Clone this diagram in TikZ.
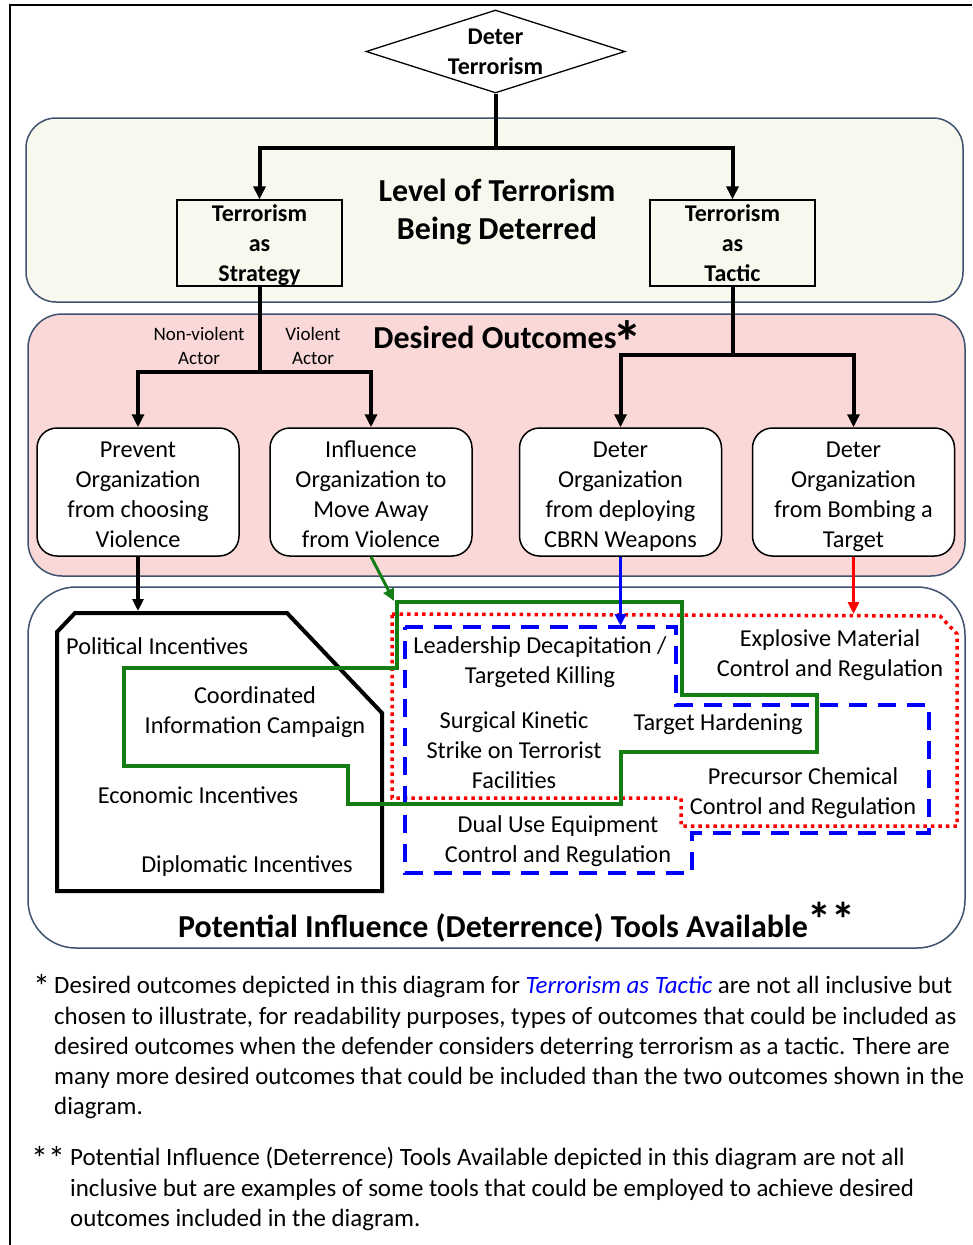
\documentclass[tikz,border=0pt]{standalone}
\usepackage{fontspec}
\setmainfont{Carlito}
\usetikzlibrary{shapes.geometric,arrows.meta}
\definecolor{panelborder}{RGB}{62,82,112}
\definecolor{lightfill}{RGB}{248,249,238}
\definecolor{pinkfill}{RGB}{250,216,216}
\definecolor{tgreen}{RGB}{20,125,20}
\newcommand\mytstrut{\rule{0pt}{23pt}}
\newcommand\mybstrut{\rule[-7pt]{0pt}{7pt}}
\newcommand\mytstrutb{\rule{0pt}{21pt}}
\newcommand\mybstrutb{\rule[-7pt]{0pt}{7pt}}
\begin{document}
\begin{tikzpicture}[x=1pt,y=-1pt,
  panel/.style={draw=panelborder,line width=1.5pt},
  conn/.style={line width=4pt,-{Triangle[length=13pt,width=12pt]}},
  lowconn/.style={line width=3pt,-{Triangle[length=12pt,width=11pt]}},
  struts/.style={execute at begin node=\mytstrut,execute at end node=\mybstrut},
  strutsb/.style={execute at begin node=\mytstrutb,execute at end node=\mybstrutb},
  txt/.style={font=\fontsize{24.3}{30}\selectfont,align=center,inner sep=0pt},
  btxt/.style={font=\bfseries\fontsize{24}{30}\selectfont,align=center,inner sep=0pt},
  title/.style={font=\bfseries\fontsize{32}{38}\selectfont,align=center,inner sep=0pt},
  small/.style={font=\fontsize{19}{24}\selectfont,align=center,inner sep=0pt},
  fn/.style={font=\fontsize{24.9}{30}\selectfont,anchor=base west,inner sep=0pt,text height=17pt,text depth=5pt},
  fnstar/.style={font=\fontsize{34}{34}\selectfont,anchor=base west,inner sep=0pt},
  levelbox/.style={draw=black,line width=1.3pt,fill=lightfill,minimum width=165pt,minimum height=86pt,inner sep=0pt},
  leveltext/.style={btxt,strutsb},
  outbox/.style={draw=black,line width=1.5pt,fill=white,rounded corners=20pt,minimum width=202pt,minimum height=128pt,inner sep=0pt},
  outtext/.style={txt,struts},
  bluedash/.style={draw=blue,line width=4pt,dash pattern=on 18pt off 11pt},
  reddot/.style={draw=red,line width=3.5pt,dash pattern=on 3.5pt off 4pt},
  greenline/.style={draw=tgreen,line width=4pt},
  blackline/.style={draw=black,line width=4pt}
]
\useasboundingbox (0,0) rectangle (972,1245);
\fill[white] (0,0) rectangle (972,1245);
% frame
\draw[line width=2pt] (10,1245) -- (10,5) -- (972,5);

% panels
\draw[panel,fill=lightfill,rounded corners=30pt] (26,118) rectangle (963,302);
\draw[panel,fill=pinkfill,rounded corners=34pt] (28,314) rectangle (965,576);
\draw[panel,fill=white,rounded corners=48pt] (28,587) rectangle (965,948);

% top diamond
\node[draw=black,line width=1.3pt,shape=diamond,aspect=3.1,minimum width=259pt,minimum height=83pt,inner sep=0pt,fill=white,btxt] (d) at (495.5,51.5) {Deter\\Terrorism};

\node[title] (lvl) at (497,212) {Level of Terrorism\\Being Deterred};
\node[levelbox] (s) at (259.5,243) {};
\node[leveltext] (st) at (259.5,247) {Terrorism\\as\\Strategy};
\node[levelbox] (t) at (732.5,243) {};
\node[leveltext] (tt) at (732.5,247) {Terrorism\\as\\Tactic};

\coordinate (j1) at (495.5,148);
\draw[line width=4pt] (d.south) -- (j1);
\draw[conn] (j1) -| (s.north);
\draw[conn] (j1) -| (t.north);

% desired outcomes
\node[title,anchor=base] (des) at (495,348) {Desired Outcomes\rlap{\hspace{-4pt}\raisebox{-15pt}{\fontsize{60}{60}\selectfont*}}};
\node[small] (nv) at (199,346) {Non-violent\\Actor};
\node[small] (va) at (313,346) {Violent\\Actor};

\node[outbox] (o1) at (138,492) {};
\node[outtext] (o1t) at (138,498) {Prevent\\Organization\\from choosing\\Violence};
\node[outbox] (o2) at (371,492) {};
\node[outtext] (o2t) at (371,498) {Influence\\Organization to\\Move Away\\from Violence};
\node[outbox] (o3) at (620.5,492) {};
\node[outtext] (o3t) at (620.5,498) {Deter\\Organization\\from deploying\\CBRN Weapons};
\node[outbox] (o4) at (853.5,492) {};
\node[outtext] (o4t) at (853.5,498) {Deter\\Organization\\from Bombing a\\Target};

\coordinate (j2) at (259.5,372);
\coordinate (j3) at (732.5,355);
\draw[line width=4pt] (s.south) -- (j2);
\draw[conn] (j2) -| (o1.north);
\draw[conn] (j2) -| (o2.north);
\draw[line width=4pt] (t.south) -- (j3);
\draw[conn] (j3) -| (o3.north);
\draw[conn] (j3) -| (o4.north);

% tool groups
\draw[blackline] (57,632) -- (75,613) -- (287,613) -- (382,713) -- (382,891) -- (57,891) -- cycle;
\draw[reddot] (392,614) -- (940,616) -- (957,634) -- (957,826) -- (681,826) -- (681,798) -- (392,798) -- cycle;
\draw[bluedash] (405,627) -- (676,627) -- (676,705) -- (929,705) -- (929,833) -- (692,833) -- (692,873) -- (405,873) -- cycle;
\draw[greenline] (397,602) -- (682,602) -- (682,695) -- (817,695) -- (817,752) -- (621,752) -- (621,804) -- (348,804) -- (348,766) -- (124,766) -- (124,668) -- (397,668) -- cycle;

\coordinate (pb) at (138,611);
\coordinate (pg) at (394,601);
\coordinate (pbl) at (620.5,626);
\coordinate (pr) at (853.5,614);
\draw[lowconn,line width=3.5pt] (o1.south) -- (pb);
\draw[lowconn,tgreen] (o2.south) -- (pg);
\draw[lowconn,blue] (o3.south) -- (pbl);
\draw[lowconn,red] (o4.south) -- (pr);

% tool labels
\node[txt,anchor=west] (pi) at (66,646) {Political Incentives};
\node[txt] (ci) at (255,712) {Coordinated\\Information Campaign};
\node[txt] (ei) at (198,795) {Economic Incentives};
\node[txt] (di) at (247,866) {Diplomatic Incentives};
\node[txt] (ld) at (540,662) {Leadership Decapitation /\\Targeted Killing};
\node[txt] (sk) at (514,750) {Surgical Kinetic\\Strike on Terrorist\\Facilities};
\node[txt] (th) at (718,724) {Target Hardening};
\node[txt] (em) at (830,655) {Explosive Material\\Control and Regulation};
\node[txt] (pc) at (803,793) {Precursor Chemical\\Control and Regulation};
\node[txt] (du) at (558,841) {Dual Use Equipment\\Control and Regulation};

\node[title,anchor=base] (pt) at (493,937) {Potential Influence (Deterrence) Tools Available\rlap{\raisebox{1pt}{\fontsize{48}{48}\selectfont**}}};

% footnotes
\node[fnstar] (s1) at (33,998) {*};
\node[fn] (f1) at (54,993) {Desired outcomes depicted in this diagram for \textcolor{blue}{\itshape Terrorism as Tactic} are not all inclusive but};
\node[fn] (f2) at (54,1024) {chosen to illustrate, for readability purposes, types of outcomes that could be included as};
\node[fn] (f3) at (54,1054) {desired outcomes when the defender considers deterring terrorism as a tactic. There are};
\node[fn] (f4) at (54,1084) {many more desired outcomes that could be included than the two outcomes shown in the};
\node[fn] (f5) at (54,1114) {diagram.};
\node[fnstar] (s2) at (31,1170) {**};
\node[fn] (g1) at (70,1165) {Potential Influence (Deterrence) Tools Available depicted in this diagram are not all};
\node[fn] (g2) at (70,1196) {inclusive but are examples of some tools that could be employed to achieve desired};
\node[fn] (g3) at (70,1226) {outcomes included in the diagram.};
\end{tikzpicture}
\end{document}
